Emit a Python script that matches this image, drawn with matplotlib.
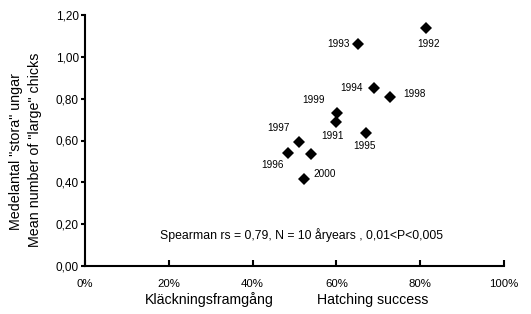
import matplotlib
matplotlib.use("Agg")
import matplotlib.pyplot as plt

plt.rcParams['font.family'] = ['Liberation Sans', 'DejaVu Sans']

# Data (hatching success %, mean number of "large" chicks)
years = ["1992", "1993", "1994", "1998", "1999", "1991", "1995", "1997", "1996", "", "2000"]
hatching = [81.5, 65.1, 69.0, 72.9, 60.1, 59.8, 67.0, 51.1, 48.5, 53.9, 52.3]
large_chicks = [1.14, 1.06, 0.85, 0.81, 0.73, 0.69, 0.635, 0.595, 0.54, 0.535, 0.415]
# label offsets in points (dx, dy)
label_offsets = [(1.5, -12), (-14, 0), (-16, 0), (17, 2), (-17, 9.5), (-2, -10.5), (-1, -9.5),
                 (-15, 9.5), (-11, -8.5), (0, 0), (15, 4)]

x_ticks = [0, 20, 40, 60, 80, 100]
y_ticks = [0.0, 0.2, 0.4, 0.6, 0.8, 1.0, 1.2]

fig = plt.figure(figsize=(5.31, 3.14), dpi=100)
ax = fig.add_axes([85/531, 48/314, (504-85)/531, (266-15)/314])

ax.plot(hatching, large_chicks, linestyle='none', marker='D', markersize=6.6,
        color='black', markeredgewidth=0)

for yr, x, y, (dx, dy) in zip(years, hatching, large_chicks, label_offsets):
    if yr:
        ax.annotate(yr, (x, y), xytext=(dx, dy), textcoords='offset points',
                    ha='center', va='center', fontsize=7.2)

ax.set_xlim(0, 100)
ax.set_ylim(0, 1.2)
ax.set_xticks(x_ticks)
ax.set_xticklabels([f"{t}%" for t in x_ticks])
ax.set_yticks(y_ticks)
ax.set_yticklabels([f"{t:.2f}".replace('.', ',') for t in y_ticks])

for s in ['top', 'right']:
    ax.spines[s].set_visible(False)
for s in ['left', 'bottom']:
    ax.spines[s].set_linewidth(1.5)

ax.tick_params(axis='x', direction='in', length=4, width=1.5, pad=9.5, labelsize=8.2)
ax.tick_params(axis='y', direction='out', length=3, width=1.5, pad=1.5, labelsize=8.5)

fig.text(160/531, 1 - 235/314, "Spearman rs = 0,79, N = 10 åryears , 0,01<P<0,005",
         ha='left', va='center', fontsize=8.8)

fig.text(145/531, 1 - 304/314, "Kläckningsframgång", ha='left', va='baseline', fontsize=10.2)
fig.text(317/531, 1 - 304/314, "Hatching success", ha='left', va='baseline', fontsize=10.2)

fig.text(16/531, 1 - 151/314, 'Medelantal "stora" ungar',
         rotation=90, ha='center', va='center', fontsize=10.3)
fig.text(35/531, 1 - 150/314, 'Mean number of "large" chicks',
         rotation=90, ha='center', va='center', fontsize=10.3)

fig.savefig("out.png", dpi=100)
